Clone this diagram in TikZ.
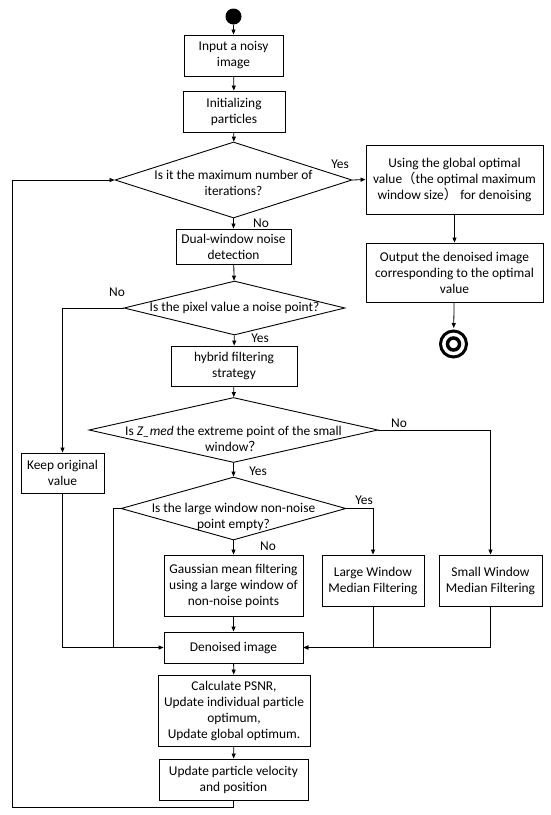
\documentclass[tikz,border=0pt]{standalone}
\usepackage{fontspec}
\setmainfont{Carlito}
\newfontfamily\cjk{Noto Sans CJK SC}
\usetikzlibrary{arrows.meta, positioning, calc, shapes.geometric}

\begin{document}
\begin{tikzpicture}[x=1pt, y=-1pt, font=\fontsize{13.4}{16}\selectfont,
  box/.style={draw, line width=0.9pt, inner sep=0pt, align=center},
  decision/.style={draw, diamond, line width=0.9pt, inner sep=0pt},
  flow/.style={line width=0.8pt, -{Triangle[length=5pt, width=4pt]}},
  link/.style={line width=0.8pt},
  answer/.style={inner sep=0pt}]

  \useasboundingbox (0,0) rectangle (550,815);

  % start and end marks
  \node[circle, fill=black, minimum size=16, inner sep=0pt] (start) at (233.5,16.5) {};
  \node[circle, draw, line width=3pt, minimum size=26, inner sep=0pt] (stop) at (453.5,344) {};
  \node[circle, draw, line width=3.5pt, minimum size=12, inner sep=0pt] (stopin) at (stop) {};

  % main column
  \node[box, minimum width=99, minimum height=41] (input) at (233.5,55.5) {Input a noisy\\image};
  \node[box, minimum width=102, minimum height=41] (init) at (234,111.5) {Initializing\\particles};
  \node[decision, minimum width=237, minimum height=76] (q1) at (233.5,180) {};
  \node[align=center] (q1txt) at ([yshift=-3pt]q1.center) {Is it the maximum number of\\iterations?};
  \node[box, minimum width=115, minimum height=35] (dual) at (233.5,246.5) {Dual-window noise\\detection};
  \node[decision, minimum width=221, minimum height=54] (q2) at (234.5,308) {};
  \node (q2txt) at (q2.center) {Is the pixel value a noise point?};
  \node[box, minimum width=126, minimum height=40] (hybrid) at (234,366) {hybrid filtering\\strategy};
  \node[decision, minimum width=289, minimum height=65] (q3) at (233.5,430) {};
  \node[align=center] (q3txt) at ([yshift=-9pt]q3.center) {Is \textit{Z\_med} the extreme point of the small\\window{\cjk ？}};
  \node[decision, minimum width=225, minimum height=63] (q4) at (233.5,508.5) {};
  \node[align=center] (q4txt) at ([yshift=-8pt]q4.center) {Is the large window non-noise\\point empty?};
  \node[box, minimum width=139, minimum height=61] (gauss) at (233.5,585.5) {Gaussian mean filtering\\using a large window of\\non-noise points};
  \node[box, minimum width=139, minimum height=31] (denoised) at (233.5,647.5) {Denoised image};
  \node[box, minimum width=152, minimum height=71] (calc) at (234,710.5) {Calculate PSNR,\\Update individual particle\\optimum,\\Update global optimum.};
  \node[box, minimum width=149, minimum height=41] (update) at (233.5,779.5) {Update particle velocity\\and position};

  % side boxes
  \node[box, minimum width=177, minimum height=69] (useopt) at (454.5,179.5) {Using the global optimal\\value{\cjk （}the optimal maximum\\window size{\cjk ）} for denoising};
  \node[box, minimum width=177, minimum height=59] (output) at (454.5,272.5) {Output the denoised image\\corresponding to the optimal\\value};
  \node[box, minimum width=83, minimum height=40] (keep) at (62.5,473) {Keep original\\value};
  \node[box, minimum width=102, minimum height=51] (large) at (373,580.5) {Large Window\\Median Filtering};
  \node[box, minimum width=103, minimum height=51] (small) at (490.5,580.5) {Small Window\\Median Filtering};

  % yes / no labels
  \node[answer] (q1yes) at (340,164) {Yes};
  \node[answer] (q1no) at (261,223) {No};
  \node[answer] (q2no) at (117,292) {No};
  \node[answer] (q2yes) at (260,338) {Yes};
  \node[answer] (q3no) at (399,423) {No};
  \node[answer] (q3yes) at (258,471) {Yes};
  \node[answer] (q4yes) at (364,500) {Yes};
  \node[answer] (q4no) at (268,546) {No};

  % straight connectors
  \draw[flow] (start) -- (input);
  \draw[flow] (input) -- (init);
  \draw[flow] (init) -- (q1);
  \draw[flow] (q1) -- (dual);
  \draw[flow] (dual) -- (q2);
  \draw[flow] (q2) -- (hybrid);
  \draw[flow] (hybrid) -- (q3);
  \draw[flow] (q3) -- (q4);
  \draw[flow] (q4) -- (gauss);
  \draw[flow] (gauss) -- (denoised);
  \draw[flow] (denoised) -- (calc);
  \draw[flow] (calc) -- (update);
  \draw[flow] (q1.east) -- (useopt.west);
  \draw[flow] (useopt) -- (output);
  \draw[flow, shorten >=1.5pt] (output) -- (stop);

  % branches
  \draw[flow] (q2.west) -| (keep.north);
  \draw[flow] (q3.east) -| (small.north);
  \draw[flow] (q4.east) -| (large.north);
  \draw[flow] (keep.south) |- (denoised.west);
  \coordinate (joinl) at (113,0);
  \draw[link] (q4.west) -| (joinl |- denoised.west);
  \draw[flow] (large.south) |- (denoised.east);
  \draw[flow] (small.south) |- (denoised.east);

  % loop back
  \coordinate (loopx) at (12,807);
  \draw[flow] (update.south) |- (loopx) |- (q1.west);

\end{tikzpicture}
\end{document}
